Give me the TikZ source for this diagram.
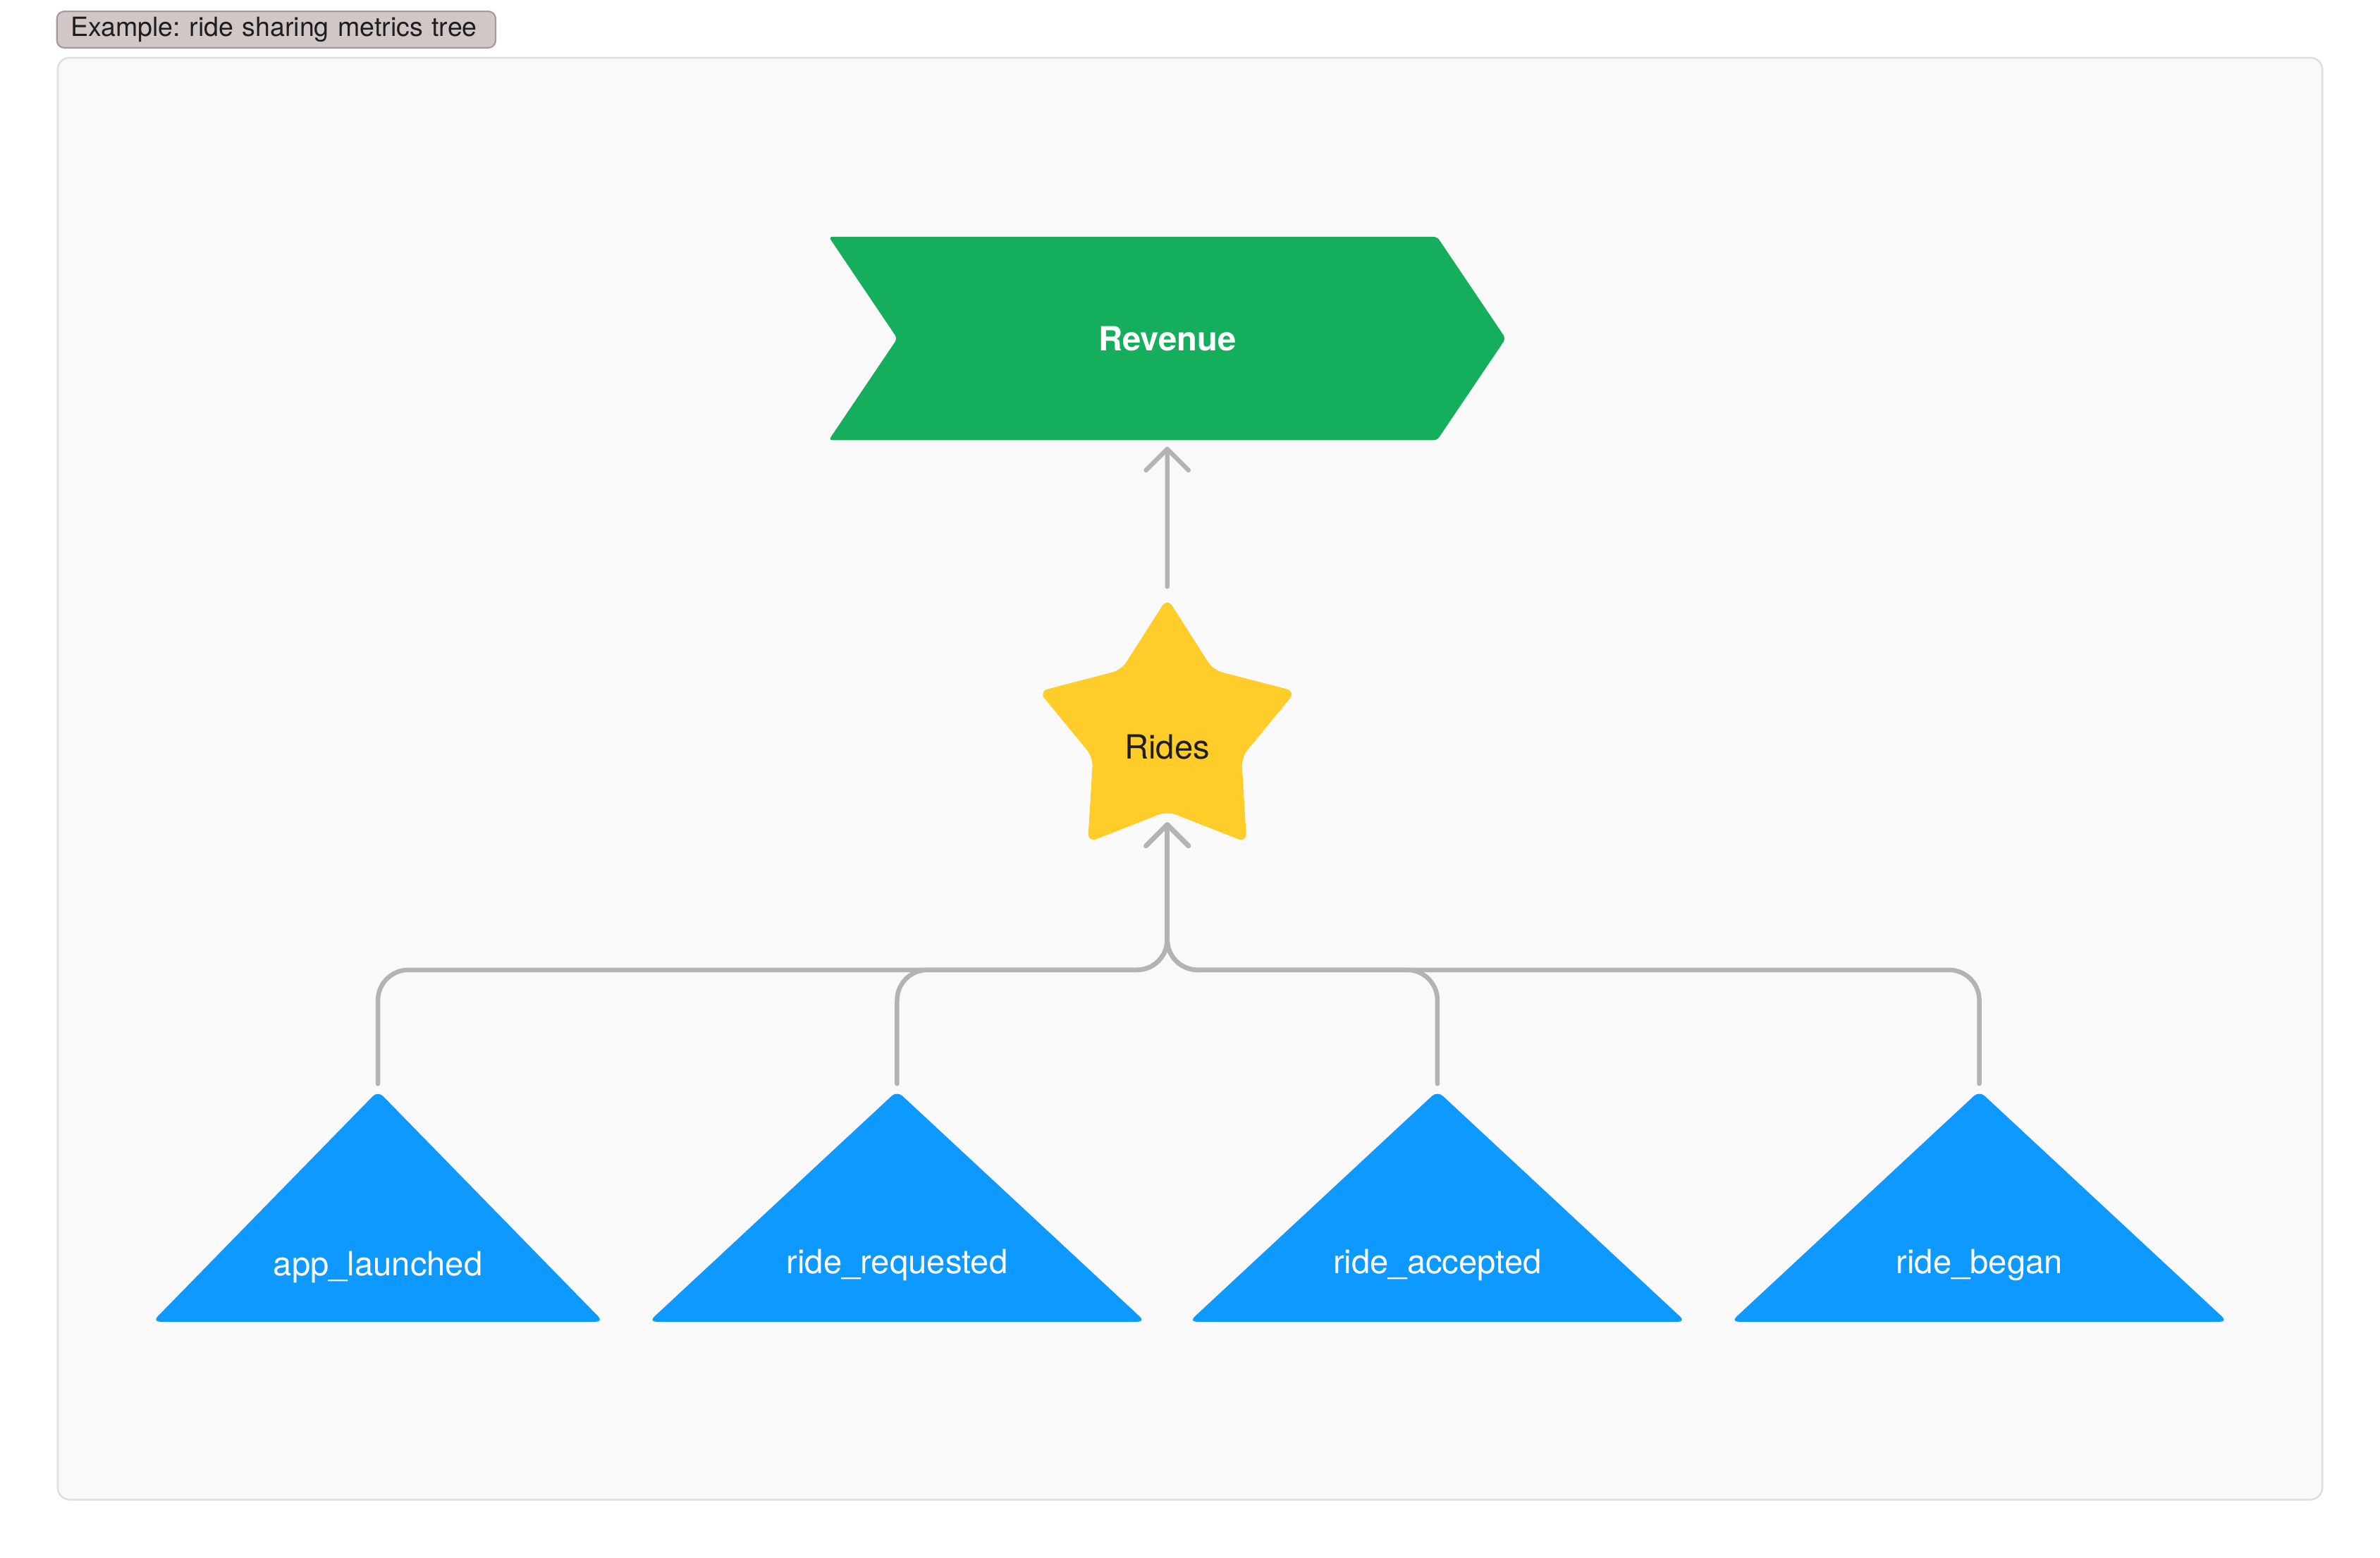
\documentclass[tikz,border=0pt]{standalone}
\usepackage{fontspec}
\setmainfont{TeX Gyre Heros}
\usetikzlibrary{shapes.geometric,shapes.symbols,arrows.meta,positioning}
\definecolor{figgreen}{HTML}{14AE5C}
\definecolor{figyellow}{HTML}{FFCD29}
\definecolor{figblue}{HTML}{0D99FF}
\definecolor{linkgray}{HTML}{B3B3B3}
\definecolor{panelfill}{HTML}{F9F9F9}
\definecolor{panelline}{HTML}{DEDEDE}
\definecolor{tagfill}{HTML}{D1C7C7}
\definecolor{tagline}{HTML}{A39B9B}
\definecolor{ink}{HTML}{1E1E1E}
\newcommand{\evt}[1]{\makebox[0pt]{\raisebox{-8.1mm}[0pt][0pt]{#1}}}
\begin{document}
\begin{tikzpicture}[x=0.25mm, y=-0.25mm, node distance={65mm},
  goal/.style = {signal, signal to=east, signal from=west, signal pointer angle=112, fill=figgreen, text=white, rounded corners=0.6mm, minimum width=111.5mm, minimum height=33.5mm, font=\fontsize{15.6}{18}\bfseries},
  kpi/.style = {star, star points=5, star point ratio=1.73, fill=figyellow, text=ink, rounded corners=1.5mm, minimum size=44.5mm, inner sep=0pt, text height=8.5mm, text depth=0mm, font=\fontsize{15.6}{18}\selectfont},
  event/.style = {isosceles triangle, isosceles triangle stretches, shape border rotate=90, fill=figblue, text=white, rounded corners=1.2mm, minimum width=81.75mm, minimum height=38mm, inner sep=0pt, anchor=apex, font=\fontsize{15.6}{18}\selectfont},
  link/.style = {draw=linkgray, line width=0.75mm, rounded corners=5mm, line cap=round, -{Straight Barb[length=3.5mm, width=7mm, round]}}]
\useasboundingbox (0,0) rectangle (1568,1026);
\draw[fill=panelfill, draw=panelline, line width=0.3mm, rounded corners=2mm] (38,38) rectangle (1530,988);
\node[anchor=north west, fill=tagfill, draw=tagline, line width=0.25mm, rounded corners=1.2mm, minimum height=6mm, text width=67.75mm, align=left, inner xsep=2.25mm, inner ysep=0pt, text=ink, font=\fontsize{12.4}{14}\selectfont\frenchspacing] (0) at (37,7) {Example: ride sharing metrics tree};

\node[goal] (1) at (769,223) {Revenue};
\node[kpi] (2) [below of=1] {Rides};
\node[event, minimum width=74.25mm] (3) at (249,718) {\evt{app\_launched}};
\node[event] (4) at (591,718) {\evt{ride\_requested}};
\node[event] (5) at (947,718) {\evt{ride\_accepted}};
\node[event] (6) at (1304,718) {\evt{ride\_began}};
\coordinate (j) at (769,639);

\draw[link, shorten <=1.75mm, shorten >=1mm] (2) -- (1);
\draw[link, shorten <=1mm, shorten >=1.75mm] (3.apex) |- (j) -- (2);
\draw[link, shorten <=1mm, shorten >=1.75mm] (4.apex) |- (j) -- (2);
\draw[link, shorten <=1mm, shorten >=1.75mm] (5.apex) |- (j) -- (2);
\draw[link, shorten <=1mm, shorten >=1.75mm] (6.apex) |- (j) -- (2);
\end{tikzpicture}
\end{document}
